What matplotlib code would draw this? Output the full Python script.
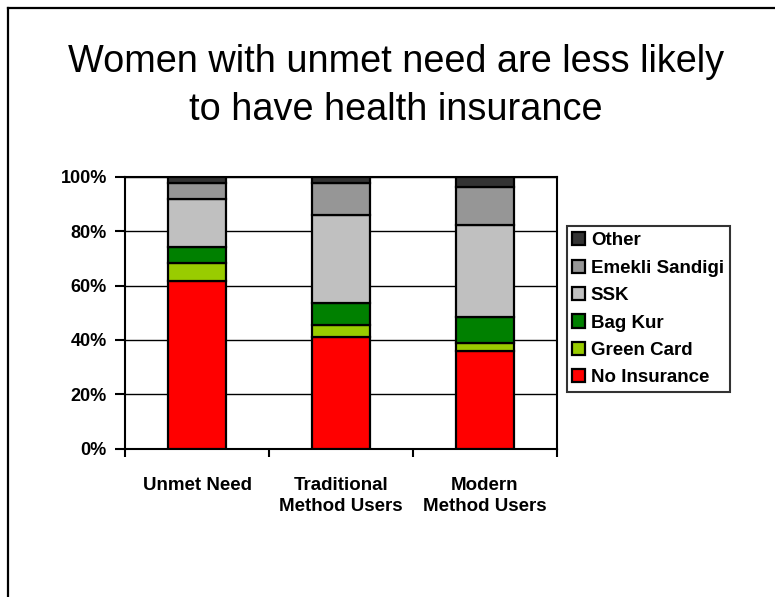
import matplotlib.pyplot as plt
import numpy as np

plt.rcParams['font.family'] = ['Liberation Sans', 'DejaVu Sans']

groups = ['Unmet Need', 'Traditional\nMethod Users', 'Modern\nMethod Users']
series = ['No Insurance', 'Green Card', 'Bag Kur', 'SSK', 'Emekli Sandigi', 'Other']
no_insurance = [61.5, 41.1, 35.9]
green_card = [6.6, 4.4, 3.1]
bag_kur = [6.0, 8.1, 9.5]
ssk = [17.6, 32.4, 33.7]
emekli = [6.1, 11.8, 14.2]
other = [2.2, 2.2, 3.6]
colors = ['#FF0000', '#99CC00', '#008000', '#C0C0C0', '#969696', '#333333']
title_lines = ['Women with unmet need are less likely', 'to have health insurance']

fig = plt.figure(figsize=(7.75, 5.97), dpi=100)
ax = fig.add_axes([0.1613, 0.2484, 0.5574, 0.4556])

x = np.arange(len(groups))
bottom = np.zeros(len(groups))
bars = []
for vals, name, col in zip([no_insurance, green_card, bag_kur, ssk, emekli, other], series, colors):
    b = ax.bar(x, vals, width=0.4, bottom=bottom, color=col, edgecolor='black',
               linewidth=1.6, label=name, zorder=3)
    bars.append(b)
    bottom += np.array(vals)

ax.set_xlim(-0.5, 2.5)
ax.set_ylim(0, 100)
ax.set_yticks(np.arange(0, 101, 20))
ax.set_yticklabels([f'{v}%' for v in range(0, 101, 20)], fontsize=13, fontweight='bold')
ax.yaxis.grid(True, color='black', linewidth=1.0, zorder=0)
ax.set_xticks(x)
ax.set_xticklabels(groups, fontsize=13.5, fontweight='bold', linespacing=1.3)
ax.tick_params(axis='x', length=0, pad=20.5)
ax.set_xticks([-0.5, 0.5, 1.5, 2.5], minor=True)
ax.tick_params(axis='x', which='minor', length=6, width=1.5, direction='out')
ax.tick_params(axis='y', length=7, width=1.5, direction='out', pad=6)
for s in ax.spines.values():
    s.set_linewidth(1.5)

leg = fig.legend(handles=bars[::-1], labels=series[::-1], loc='upper left',
                 bbox_to_anchor=(566.5 / 775, 1 - 226.5 / 597),
                 prop={'size': 13.5, 'weight': 'bold'}, handlelength=0.7, handleheight=0.7,
                 handletextpad=0.3, labelspacing=0.55, borderpad=0.3,
                 frameon=True, fancybox=False, borderaxespad=0)
leg.get_frame().set_edgecolor('black')
leg.get_frame().set_linewidth(1.5)

# two-line title, each line placed on its own baseline
for line, base in zip(title_lines, [72.3, 120]):
    fig.text(396 / 775, 1 - base / 597, line, ha='center', va='baseline', fontsize=27.3)

# outer frame line along the top and left edge
fig.add_artist(plt.Line2D([7.5 / 775, 7.5 / 775], [0, 1 - 8 / 597], color='black', linewidth=1.6))
fig.add_artist(plt.Line2D([7.5 / 775, 1], [1 - 8 / 597, 1 - 8 / 597], color='black', linewidth=1.6))

fig.savefig('out.png', dpi=100)
